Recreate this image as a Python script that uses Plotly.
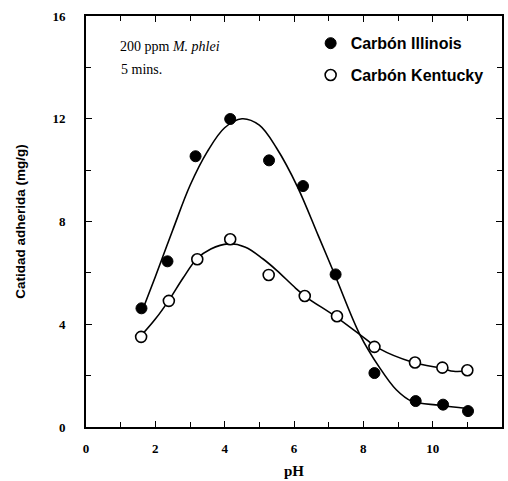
import plotly.graph_objects as go

# Measured points
ph_illinois = [1.6, 2.35, 3.16, 4.16, 5.28, 6.26, 7.2, 8.32, 9.51, 10.3, 11.02]
ads_illinois = [4.62, 6.45, 10.54, 11.99, 10.38, 9.38, 5.94, 2.1, 1.01, 0.87, 0.62]

ph_kentucky = [1.59, 2.39, 3.21, 4.16, 5.27, 6.31, 7.24, 8.32, 9.49, 10.28, 11.0]
ads_kentucky = [3.51, 4.91, 6.53, 7.31, 5.92, 5.1, 4.31, 3.12, 2.51, 2.31, 2.21]

# Fitted curves
curve_ill_x = [1.6, 2.0, 2.5, 3.0, 3.5, 4.0, 4.5, 5.0, 5.5, 6.1, 6.7, 7.2, 7.9, 8.45, 8.95, 9.4, 10.2, 11.0]
curve_ill_y = [4.45, 5.85, 7.66, 9.4, 10.72, 11.65, 12.0, 11.75, 10.85, 9.35, 7.45, 5.85, 3.6, 2.35, 1.45, 1.0, 0.85, 0.72]

curve_ken_x = [1.6, 2.0, 2.4, 2.8, 3.2, 3.6, 4.1, 4.6, 5.1, 5.5, 6.05, 6.35, 7.2, 7.9, 8.46, 9.4, 10.3, 10.6, 11.0]
curve_ken_y = [3.57, 4.2, 4.95, 5.8, 6.55, 6.93, 7.13, 7.0, 6.55, 6.1, 5.4, 5.06, 4.3, 3.6, 3.05, 2.53, 2.27, 2.17, 2.18]

x_ticks = [0, 2, 4, 6, 8, 10, 12]
x_minor = [1, 3, 5, 7, 9, 11]
y_ticks = [0, 4, 8, 12, 16]
y_minor = [2, 6, 10, 14]

fig = go.Figure()

fig.add_trace(go.Scatter(x=curve_ill_x, y=curve_ill_y, mode="lines",
                         line=dict(color="black", width=1.6, shape="spline", smoothing=1.0),
                         showlegend=False, hoverinfo="skip"))
fig.add_trace(go.Scatter(x=curve_ken_x, y=curve_ken_y, mode="lines",
                         line=dict(color="black", width=1.6, shape="spline", smoothing=1.0),
                         showlegend=False, hoverinfo="skip"))

fig.add_trace(go.Scatter(x=ph_illinois, y=ads_illinois, mode="markers", name="Carbón Illinois",
                         legendgroup="a",
                         marker=dict(symbol="circle", size=11, color="black",
                                     line=dict(color="black", width=1))))
fig.add_trace(go.Scatter(x=ph_kentucky, y=ads_kentucky, mode="markers", name="Carbón Kentucky",
                         legendgroup="b",
                         marker=dict(symbol="circle", size=11, color="white",
                                     line=dict(color="black", width=1.6))))

tickfont = dict(family="Liberation Serif", size=13, color="black", weight="bold")

fig.update_xaxes(range=[0, 12], tickmode="array", tickvals=x_ticks, ticktext=[str(v) for v in x_ticks],
                 ticks="inside", ticklen=6, tickwidth=1.3, tickcolor="black",
                 minor=dict(tickmode="array", tickvals=x_minor, ticks="inside", ticklen=5,
                            tickwidth=1.2, tickcolor="black", showgrid=False),
                 showline=True, linecolor="black", linewidth=1.6, mirror="allticks",
                 showgrid=False, zeroline=False, tickfont=tickfont, ticklabelstandoff=9,
                 title=dict(text="<b>pH</b>", font=dict(family="Liberation Serif", size=15, color="black"),
                            standoff=10))
fig.update_yaxes(range=[0, 16], tickmode="array", tickvals=y_ticks, ticktext=[str(v) for v in y_ticks],
                 ticks="inside", ticklen=6, tickwidth=1.3, tickcolor="black",
                 minor=dict(tickmode="array", tickvals=y_minor, ticks="inside", ticklen=5,
                            tickwidth=1.2, tickcolor="black", showgrid=False),
                 showline=True, linecolor="black", linewidth=1.6, mirror="allticks",
                 showgrid=False, zeroline=False, tickfont=tickfont, ticklabelstandoff=16,
                 title=dict(text="<b>Catidad adherida (mg/g)</b>",
                            font=dict(family="Liberation Sans", size=13.5, color="black"),
                            standoff=24))

fig.add_annotation(x=0.078, y=0.925, xref="paper", yref="paper", xanchor="left", yanchor="middle",
                   text="200 ppm <i>M. phlei</i>", showarrow=False,
                   font=dict(family="Liberation Serif", size=14, color="black"))
fig.add_annotation(x=0.08, y=0.871, xref="paper", yref="paper", xanchor="left", yanchor="middle",
                   text="5 mins.", showarrow=False,
                   font=dict(family="Liberation Serif", size=14, color="black"))

fig.update_layout(
    width=508, height=481,
    margin=dict(l=86, r=4, t=16, b=54),
    paper_bgcolor="white", plot_bgcolor="white",
    legend=dict(x=0.54, y=0.975, xanchor="left", yanchor="top",
                bgcolor="rgba(0,0,0,0)", borderwidth=0, tracegroupgap=8,
                font=dict(family="Liberation Sans", size=16, color="black", weight="bold"),
                itemwidth=30),
    font=dict(family="Liberation Serif", color="black"),
)

fig.write_html("out.html")
